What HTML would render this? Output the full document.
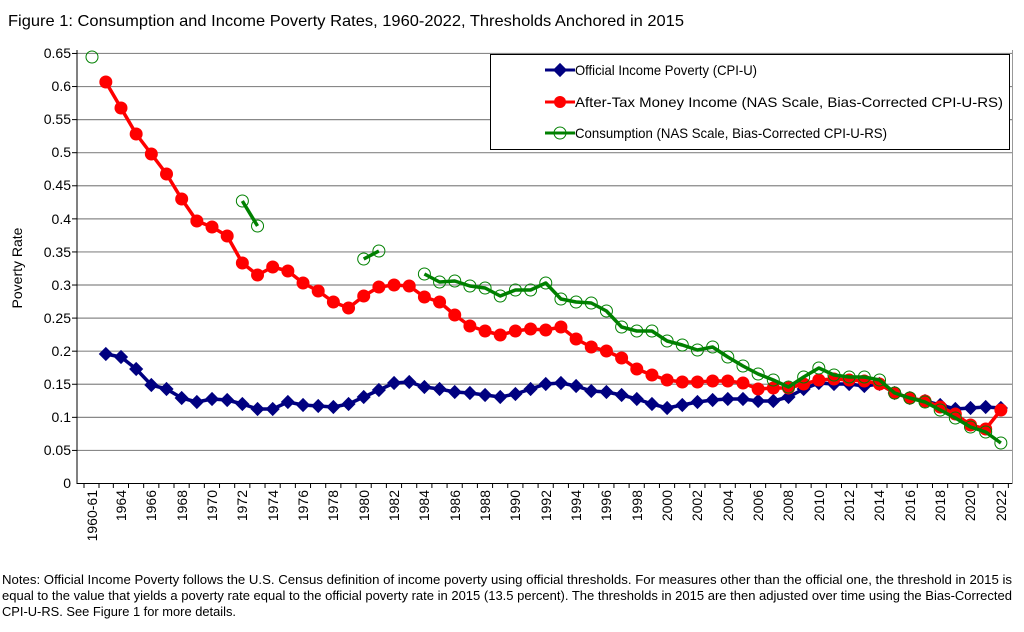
<!DOCTYPE html>
<html><head><meta charset="utf-8"><style>
body{margin:0;background:#fff;font-family:"Liberation Sans",Arial,sans-serif;}
svg text{font-family:"Liberation Sans",Arial,sans-serif;}
</style></head><body>
<svg id="s" width="1024" height="627" xmlns="http://www.w3.org/2000/svg">
<rect width="1024" height="627" fill="#fff"/>
<text x="8" y="26" font-size="16" fill="#000" textLength="676" lengthAdjust="spacingAndGlyphs">Figure 1: Consumption and Income Poverty Rates, 1960-2022, Thresholds Anchored in 2015</text>
<g id="grid"></g>
<line x1="77" y1="50" x2="77" y2="484" stroke="#000" stroke-width="1"/>
<line x1="77" y1="483.5" x2="1012" y2="483.5" stroke="#000"/>
<line x1="1012.5" y1="50" x2="1012.5" y2="484" stroke="#999"/>
<g font-size="14" text-anchor="end" id="yl">
<text x="71" y="58">0.65</text><text x="71" y="91">0.6</text><text x="71" y="124">0.55</text><text x="71" y="157">0.5</text><text x="71" y="190">0.45</text><text x="71" y="224">0.4</text><text x="71" y="257">0.35</text><text x="71" y="290">0.3</text><text x="71" y="323">0.25</text><text x="71" y="356">0.2</text><text x="71" y="389">0.15</text><text x="71" y="422">0.1</text><text x="71" y="455">0.05</text><text x="71" y="488">0</text>
</g>
<text transform="translate(22,268) rotate(-90)" font-size="14" text-anchor="middle">Poverty Rate</text>
<g font-size="14" text-anchor="end">
<text transform="translate(97,490) rotate(-90)">1960-61</text>
<text transform="translate(126,490) rotate(-90)">1964</text>
<text transform="translate(156,490) rotate(-90)">1966</text>
<text transform="translate(187,490) rotate(-90)">1968</text>
<text transform="translate(217,490) rotate(-90)">1970</text>
<text transform="translate(247,490) rotate(-90)">1972</text>
<text transform="translate(278,490) rotate(-90)">1974</text>
<text transform="translate(308,490) rotate(-90)">1976</text>
<text transform="translate(338,490) rotate(-90)">1978</text>
<text transform="translate(369,490) rotate(-90)">1980</text>
<text transform="translate(399,490) rotate(-90)">1982</text>
<text transform="translate(429,490) rotate(-90)">1984</text>
<text transform="translate(460,490) rotate(-90)">1986</text>
<text transform="translate(490,490) rotate(-90)">1988</text>
<text transform="translate(520,490) rotate(-90)">1990</text>
<text transform="translate(551,490) rotate(-90)">1992</text>
<text transform="translate(581,490) rotate(-90)">1994</text>
<text transform="translate(611,490) rotate(-90)">1996</text>
<text transform="translate(642,490) rotate(-90)">1998</text>
<text transform="translate(672,490) rotate(-90)">2000</text>
<text transform="translate(702,490) rotate(-90)">2002</text>
<text transform="translate(733,490) rotate(-90)">2004</text>
<text transform="translate(763,490) rotate(-90)">2006</text>
<text transform="translate(793,490) rotate(-90)">2008</text>
<text transform="translate(824,490) rotate(-90)">2010</text>
<text transform="translate(854,490) rotate(-90)">2012</text>
<text transform="translate(884,490) rotate(-90)">2014</text>
<text transform="translate(915,490) rotate(-90)">2016</text>
<text transform="translate(945,490) rotate(-90)">2018</text>
<text transform="translate(975,490) rotate(-90)">2020</text>
<text transform="translate(1006,490) rotate(-90)">2022</text>
</g>
<g id="series"></g>
<rect x="490.5" y="54.5" width="519" height="95" fill="#fff" stroke="#000"/>
<line x1="545" y1="70" x2="575" y2="70" stroke="#000080" stroke-width="3"/>
<rect x="555" y="65" width="10" height="10" fill="#000080" transform="rotate(45 560 70)"/>
<text x="575" y="75" font-size="14" textLength="182" lengthAdjust="spacingAndGlyphs">Official Income Poverty (CPI-U)</text>
<line x1="545" y1="102" x2="575" y2="102" stroke="#f00" stroke-width="3"/>
<circle cx="560" cy="102" r="6" fill="#f00"/>
<text x="575" y="107" font-size="14" textLength="428" lengthAdjust="spacingAndGlyphs">After-Tax Money Income (NAS Scale, Bias-Corrected CPI-U-RS)</text>
<line x1="545" y1="133" x2="575" y2="133" stroke="#008000" stroke-width="3"/>
<circle cx="560" cy="133" r="6" fill="none" stroke="#008000"/>
<text x="575" y="138" font-size="14" textLength="312" lengthAdjust="spacingAndGlyphs">Consumption (NAS Scale, Bias-Corrected CPI-U-RS)</text>
<text x="2" y="584" font-size="13" textLength="1010" lengthAdjust="spacingAndGlyphs">Notes: Official Income Poverty follows the U.S. Census definition of income poverty using official thresholds. For measures other than the official one, the threshold in 2015 is</text>
<text x="2" y="600" font-size="13" textLength="1010" lengthAdjust="spacingAndGlyphs">equal to the value that yields a poverty rate equal to the official poverty rate in 2015 (13.5 percent). The thresholds in 2015 are then adjusted over time using the Bias-Corrected</text>
<text x="2" y="616" font-size="13" textLength="234" lengthAdjust="spacingAndGlyphs">CPI-U-RS. See Figure 1 for more details.</text>
</svg>
<script>
var NS="http://www.w3.org/2000/svg";
function el(p,t,a){var e=document.createElementNS(NS,t);for(var k in a)e.setAttribute(k,a[k]);p.appendChild(e);return e;}
var g=document.getElementById("grid");
for(var i=1;i<=13;i++){var y=483.5-i*33.08;el(g,"line",{x1:77,y1:y,x2:1012,y2:y,stroke:"#888","stroke-width":1.2});el(g,"line",{x1:72,y1:y,x2:77,y2:y,stroke:"#000"});}
function X(yr){return yr==1961?91.5:121+(yr-1964)*15.17;}
var yrs=[1961];for(var y=1963;y<=2022;y++)yrs.push(y);
yrs.forEach(function(yr){var x=X(yr)+7.5;el(g,"line",{x1:x,y1:483,x2:x,y2:488,stroke:"#000"});});
el(g,"line",{x1:84,y1:483,x2:84,y2:488,stroke:"#000"});
var red=[82,108,134,154,174,199,221,227,236,263,275,267,271,283,291,302,308,296,287,285,286,297,302,315,326,331,335,331,329,330,327,339,347,351,358,369,375,380,382,382,381,381,383,389,388,388,384,380,379,380,381,384,393,398,401,407,414,425,429,410];
var blue=[354,357,369,385,389,398,402,399,400,404,409,409,402,405,406,407,404,397,390,383,382,387,389,392,393,395,397,394,389,384,383,386,391,392,395,399,404,408,405,402,400,399,399,401,401,397,389,383,384,384,386,384,393,398,401,405,409,408,407,408];
var gr84=[274,282,281,286,288,296,290,290,283,299,302,303,311,327,331,331,341,345,350,347,357,366,374,380,387,377,368,375,377,377,380,393,398,402,410,418,427,432,443];
var s=document.getElementById("series");
function pts(start,arr){return arr.map(function(v,i){return [X(start+i),v];});}
function line(p,c){el(s,"polyline",{points:p.map(function(q){return q.join(",")}).join(" "),fill:"none",stroke:c,"stroke-width":3.5,"stroke-linejoin":"round"});}
var B=pts(1963,blue),R=pts(1963,red);
var G=[pts(1972,[201,226]),pts(1980,[259,251]),pts(1984,gr84)];
line(B,"#000080");B.forEach(function(p){el(s,"rect",{x:p[0]-5,y:p[1]-5,width:10,height:10,fill:"#000080",transform:"rotate(45 "+p[0]+" "+p[1]+")"});});
line(R,"#f00");R.forEach(function(p){el(s,"circle",{cx:p[0],cy:p[1],r:6.5,fill:"#f00"});});
G.forEach(function(a){line(a,"#008000");a.forEach(function(p){el(s,"circle",{cx:p[0],cy:p[1],r:6,fill:"none",stroke:"#008000","stroke-width":1});});});
el(s,"circle",{cx:92,cy:57,r:6,fill:"none",stroke:"#008000"});
</script>
</body></html>
